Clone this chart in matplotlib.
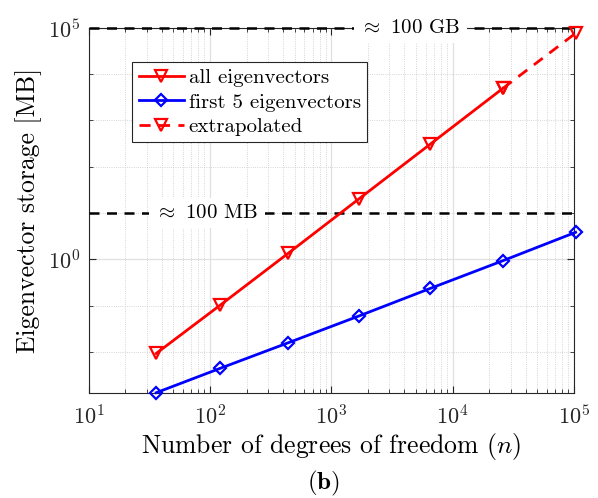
import numpy as np
import matplotlib
matplotlib.use("Agg")
import matplotlib.pyplot as plt
from matplotlib.ticker import FixedLocator, NullFormatter, LogFormatterSciNotation

plt.rcParams['font.family'] = 'cmr10'
plt.rcParams['mathtext.fontset'] = 'cm'
plt.rcParams['axes.formatter.use_mathtext'] = True

# degrees of freedom
n = np.array([36, 121, 441, 1681, 6561, 25921, 103041])
# storage in MB
all_ev = np.array([0.0093, 0.102, 1.35, 20.0, 309.0, 4900.0, 75900.0])
first5 = np.array([0.00132, 0.00443, 0.0158, 0.0596, 0.2365, 0.933, 3.83])
limit_gb = 1e5
limit_mb = 10.0

fig = plt.figure(figsize=(5.98, 4.98), dpi=100)
ax = fig.add_axes([0.1483, 0.2114, 0.8116, 0.733])

ax.set_xscale('log')
ax.set_yscale('log')
ax.set_xlim(10, 1e5)
ax.set_ylim(first5[0], 1e5)

dash = (4, 3)
ax.axhline(limit_gb, color='k', lw=1.8, dashes=dash, zorder=3, clip_on=False)
ax.axhline(limit_mb, color='k', lw=1.8, dashes=dash, zorder=3)
ax.text(4500, limit_gb, r'$\approx$ 100 GB', fontsize=15, ha='center', va='center', zorder=4,
        bbox=dict(boxstyle='square,pad=0.3', fc='white', ec='none'))
ax.text(94, limit_mb, r'$\approx$ 100 MB', fontsize=15, ha='center', va='center', zorder=4,
        bbox=dict(boxstyle='square,pad=0.3', fc='white', ec='none'))

mk = dict(fillstyle='none', markeredgewidth=1.6, clip_on=False, zorder=5)
ax.plot(n[:6], all_ev[:6], '-v', color='red', lw=2, markersize=9, label='all eigenvectors', **mk)
ax.plot(n, first5, '-D', color='blue', lw=2, markersize=6.5, label='first 5 eigenvectors', **mk)
ax.plot(n[5:], all_ev[5:], '--v', color='red', lw=2, markersize=9, dashes=(4, 3),
        label='extrapolated', **mk)

ax.yaxis.set_major_locator(FixedLocator([1e0, 1e5]))
ax.yaxis.set_minor_locator(FixedLocator([1e-2, 1e-1, 1e1, 1e2, 1e3, 1e4]))
ax.yaxis.set_major_formatter(LogFormatterSciNotation())
ax.yaxis.set_minor_formatter(NullFormatter())

ax.grid(True, which='major', color='#e0e0e0', lw=0.9, ls='-')
ax.grid(True, which='minor', color='#c8c8c8', lw=0.6, ls=':')
ax.set_axisbelow(True)

for s in ax.spines.values():
    s.set_color('#262626')
    s.set_linewidth(0.8)
ax.tick_params(which='both', direction='in', top=True, right=True, colors='#262626',
               labelsize=16)
ax.tick_params(which='major', length=5)
ax.tick_params(which='minor', length=3)
ax.tick_params(axis='x', pad=8)
ax.tick_params(axis='y', pad=6)

ax.set_xlabel(r'Number of degrees of freedom $(n)$', fontsize=18.5, labelpad=2)
ax.set_ylabel('Eigenvector storage [MB]', fontsize=18.5, labelpad=4)

leg = ax.legend(loc='upper left', bbox_to_anchor=(0.0898, 0.905), fontsize=15,
                handlelength=2.2, handletextpad=0.2, labelspacing=0.28,
                borderpad=0.3, borderaxespad=0, fancybox=False, framealpha=1)
leg.get_frame().set_edgecolor('#262626')
leg.get_frame().set_linewidth(0.8)

fig.text(0.541, 0.03, r'$\mathbf{(b)}$', fontsize=18, ha='center', va='center')

fig.savefig('out.png', dpi=100)
